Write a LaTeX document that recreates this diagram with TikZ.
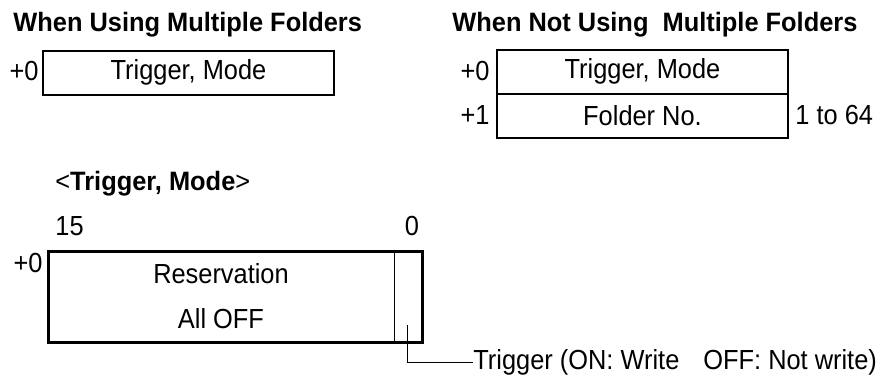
\documentclass[tikz,border=0pt]{standalone}
\usepackage{fontspec}
\setmainfont{Liberation Sans}
\newfontfamily\narrowfont[FakeStretch=0.92]{Liberation Sans}
\newfontfamily\headfont[FakeStretch=0.955]{Liberation Sans}
\usetikzlibrary{positioning}
\definecolor{ink}{HTML}{000000}
\tikzset{
  heading/.style={anchor=base west,inner sep=0pt,text=ink,
                  font=\headfont\fontsize{13.3}{15}\selectfont\bfseries},
  lbl/.style={inner sep=0pt,text=ink,
              font=\narrowfont\fontsize{13.8}{16}\selectfont},
  regbox/.style={draw=ink,line width=1pt,outer sep=0pt,inner sep=0pt,
                 minimum width=145.5pt,minimum height=22pt,
                 text=ink,font=\narrowfont\fontsize{13.8}{16}\selectfont},
  bitfield/.style={outer sep=0pt,inner sep=0pt,minimum height=45.5pt,align=center,
                   text=ink,font=\narrowfont\fontsize{13.8}{22.5}\selectfont},
  frameline/.style={draw=ink,line width=1.5pt},
  thinline/.style={draw=ink,line width=0.5pt}
}

\begin{document}
\begin{tikzpicture}[x=0.5pt,y=-0.5pt]
  \useasboundingbox (0,0) rectangle (885,380);
  % headings
  \node[heading] (multi) at (13,32) {When Using Multiple Folders};
  \node[heading] (single) at (452,32) {When Not Using\ \ Multiple Folders};
  % with multiple folders
  \node[regbox] (mfmode) at (188.5,72.5) {Trigger, Mode};
  \node[lbl,anchor=base east] (mfoff) at (39,80) {+0};
  % without multiple folders
  \node[regbox] (sfmode) at (642.5,71.5) {Trigger, Mode};
  \node[regbox,below=0pt of sfmode] (sffolder) {Folder No.};
  \node[lbl,anchor=base east] (sfoff0) at (490,80) {+0};
  \node[lbl,anchor=base east] (sfoff1) at (490,124) {+1};
  \node[lbl,anchor=base west] (sfrange) at (795,124) {1 to 64};
  % trigger, mode bits
  \node[heading] (tmhead) at (55,190) {{\mdseries<}Trigger, Mode{\mdseries>}};
  \node[lbl,anchor=base west] (tmhi) at (55,235) {15};
  \node[lbl,anchor=base] (tmlo) at (412,235) {0};
  \node[bitfield,minimum width=173pt] (tmresv) at (221,296.5) {Reservation\\All OFF};
  \node[bitfield,minimum width=14pt,right=0pt of tmresv] (tmbit) {};
  \draw[frameline] (tmresv.north west) rectangle (tmbit.south east);
  \draw[thinline] (tmbit.north west) -- (tmbit.south west);
  \node[lbl,anchor=base east] (tmoff) at (43,272) {+0};
  \coordinate (tap) at (407,325);
  \node[lbl,anchor=west] (trig) at (473,362) {Trigger (ON: Write\hspace{12pt}OFF: Not write)};
  \draw[thinline] (tap) |- (trig.west);
\end{tikzpicture}
\end{document}
